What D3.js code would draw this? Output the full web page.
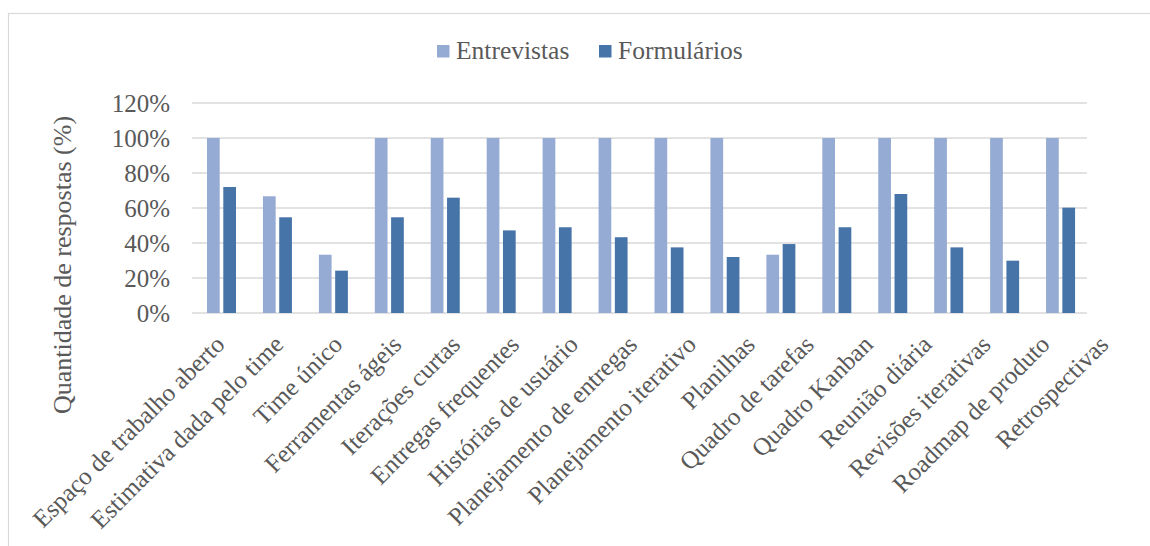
<!DOCTYPE html>
<html><head><meta charset="utf-8">
<script src="https://cdn.jsdelivr.net/npm/d3@7"></script>
<style>html,body{margin:0;padding:0;background:#fff;}svg{display:block;}</style>
</head><body>
<svg id="chart" width="1150" height="546"></svg>
<script>
const categories = ["Espaço de trabalho aberto","Estimativa dada pelo time","Time único","Ferramentas ágeis","Iterações curtas","Entregas frequentes","Histórias de usuário","Planejamento de entregas","Planejamento iterativo","Planilhas","Quadro de tarefas","Quadro Kanban","Reunião diária","Revisões iterativas","Roadmap de produto","Retrospectivas"];
const seriesNames = ["Entrevistas","Formulários"];
const entrevistas = [100,66.7,33.3,100,100,100,100,100,100,100,33.3,100,100,100,100,100];
const formularios = [72,54.7,24.2,54.7,65.9,47.2,49,43.3,37.5,32,39.4,49,68,37.5,29.9,60.2];
const yTicks = [0,20,40,60,80,100,120];
const yTitle = "Quantidade de respostas (%)";

const colors = {"Entrevistas":"#95abd3","Formulários":"#4674a9"};
const textColor = "#595959";
const font = "'Liberation Serif', 'Times New Roman', serif";

const svg = d3.select("#chart");
// chart frame (right and bottom edges fall outside the picture)
svg.append("rect").attr("x",8.5).attr("y",13.5).attr("width",1200).attr("height",545)
  .attr("fill","#fff").attr("stroke","#d9d9d9").attr("stroke-width",1.2);

const pLeft=192, pRight=1087, pTop=103, pBottom=313;
const y = d3.scaleLinear().domain([0,120]).range([pBottom,pTop]);
const x0 = d3.scaleBand().domain(categories).range([pLeft,pRight]).padding(0);
const x1 = d3.scaleBand().domain(seriesNames).range([15,44]).paddingInner(0.22);
const xLabel = d3.scalePoint().domain(categories).range([226,1110]);

// gridlines
svg.append("g").selectAll("line").data(yTicks).join("line")
  .attr("x1",pLeft).attr("x2",pRight)
  .attr("y1",d=>y(d)).attr("y2",d=>y(d))
  .attr("stroke","#d9d9d9").attr("stroke-width",1.3);

// y axis labels
const yAxis = d3.axisLeft(y).tickValues(yTicks).tickFormat(d=>d+"%").tickSize(0).tickPadding(0);
const ya = svg.append("g").attr("transform",`translate(170,0)`).call(yAxis);
ya.select(".domain").remove();
ya.selectAll("text").attr("font-family",font).attr("font-size",25).attr("fill",textColor).attr("dy","0.34em");

// bars
const rows = categories.map((c,i)=>({cat:c, vals:[{s:"Entrevistas",v:entrevistas[i]},{s:"Formulários",v:formularios[i]}]}));
const g = svg.append("g").selectAll("g").data(rows).join("g")
  .attr("transform",d=>`translate(${x0(d.cat)},0)`);
g.selectAll("rect").data(d=>d.vals).join("rect")
  .attr("x",d=>x1(d.s)).attr("width",x1.bandwidth())
  .attr("y",d=>y(d.v)).attr("height",d=>y(0)-y(d.v))
  .attr("fill",d=>colors[d.s]);

// x labels
svg.append("g").selectAll("text").data(categories).join("text")
  .attr("transform",d=>`translate(${xLabel(d)},346) rotate(-45)`)
  .attr("text-anchor","end")
  .attr("font-family",font).attr("font-size",25).attr("fill",textColor)
  .text(d=>d);

// y title
svg.append("text").attr("transform",`translate(71,${(113+417)/2}) rotate(-90)`)
  .attr("text-anchor","middle").attr("font-family",font).attr("font-size",26).attr("fill",textColor)
  .text(yTitle);

// legend
const legX = [437,599];
seriesNames.forEach((s,i)=>{
  svg.append("rect").attr("x",legX[i]).attr("y",45).attr("width",12.5).attr("height",12.5).attr("fill",colors[s]);
  svg.append("text").attr("x",legX[i]+19).attr("y",59).attr("font-family",font).attr("font-size",25.5)
    .attr("fill",textColor).text(s);
});
</script>
</body></html>
